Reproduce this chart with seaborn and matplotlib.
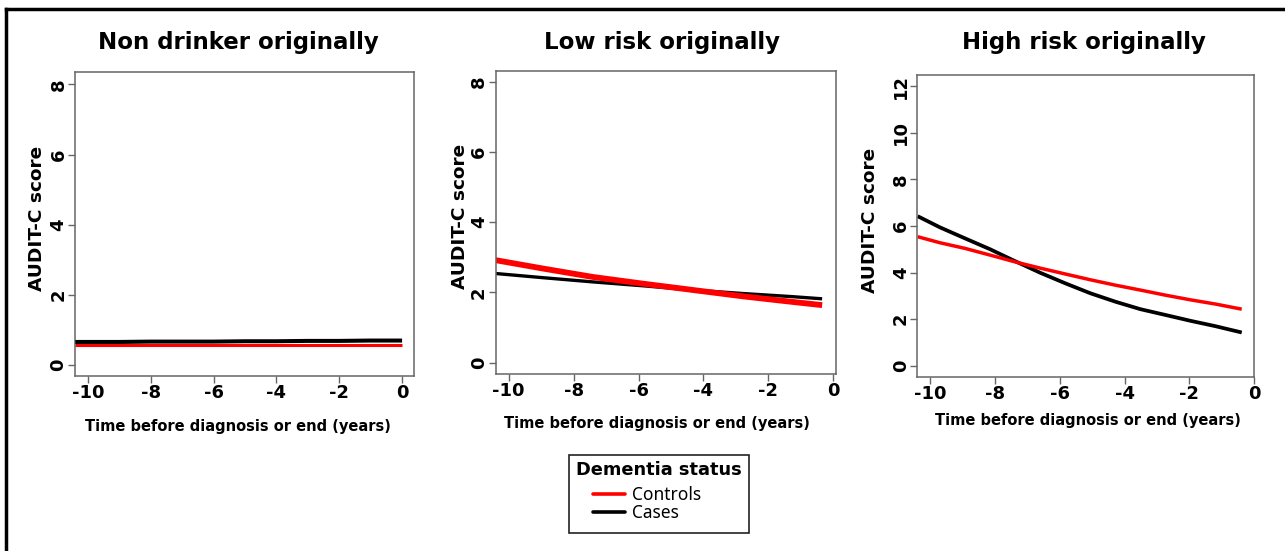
import matplotlib
matplotlib.use("Agg")
import matplotlib.pyplot as plt
from matplotlib.lines import Line2D
from matplotlib.patches import Rectangle
import seaborn as sns
import pandas as pd

# ---------------- data ----------------
panel_titles = ["Non drinker originally", "Low risk originally", "High risk originally"]
status_labels = ["Controls", "Cases"]

nd_time = [-10.4, -9, -8, -7, -6, -5, -4, -3, -2, -1, 0]
nd_controls = [0.58, 0.58, 0.58, 0.58, 0.58, 0.58, 0.58, 0.58, 0.58, 0.58, 0.58]
nd_cases = [0.66, 0.66, 0.67, 0.67, 0.67, 0.68, 0.68, 0.69, 0.69, 0.70, 0.70]

lr_time = [-10.41, -8.94, -7.40, -5.86, -4.32, -2.78, -1.24, -0.34]
lr_controls = [2.92, 2.68, 2.44, 2.25, 2.07, 1.89, 1.73, 1.64]
lr_cases = [2.54, 2.42, 2.30, 2.19, 2.07, 1.97, 1.88, 1.82]

hr_time = [-10.39, -9.70, -8.93, -8.15, -7.38, -6.60, -5.83, -5.05,
           -4.28, -3.51, -2.73, -1.96, -1.19, -0.38]
hr_controls = [5.54, 5.28, 5.04, 4.75, 4.46, 4.19, 3.94, 3.69,
               3.46, 3.25, 3.03, 2.83, 2.65, 2.43]
hr_cases = [6.42, 5.94, 5.47, 5.00, 4.49, 3.99, 3.54, 3.11,
            2.75, 2.43, 2.18, 1.93, 1.70, 1.43]

x_ticks = [-10, -8, -6, -4, -2, 0]
y_ticks_low = [0, 2, 4, 6, 8]
y_ticks_high = [0, 2, 4, 6, 8, 10, 12]

x_label = "Time before diagnosis or end (years)"
y_label = "AUDIT-C score"
legend_title = "Dementia status"

# ---------------- style ----------------
sns.set_style("ticks")
plt.rcParams["font.family"] = ["DejaVu Sans"]
plt.rcParams["text.color"] = "black"
plt.rcParams["axes.labelcolor"] = "black"
plt.rcParams["xtick.color"] = "black"
plt.rcParams["ytick.color"] = "black"

BOLD = ["DejaVu Sans"]
W, H = 1285, 551

fig = plt.figure(figsize=(12.85, 5.51), dpi=100)

positions = [
    [0.0584, 0.3176, 0.2638, 0.5517],
    [0.3858, 0.3212, 0.2646, 0.5499],
    [0.7139, 0.3158, 0.2620, 0.5481],
]
xlims = [(-10.41, 0.38), (-10.4, 0.08), (-10.4, 0.0)]
ylims = [(-0.31, 8.35), (-0.32, 8.30), (-0.48, 12.48)]
yticks_list = [y_ticks_low, y_ticks_low, y_ticks_high]
ylabel_xy = [(-0.085, 0.517), (-0.078, 0.52), (-0.114, 0.52)]
xlabel_xy = [(0.482, -0.141), (0.474, -0.139), (0.507, -0.119)]
title_xy = [(0.482, 1.0757), (0.488, 1.0716), (0.496, 1.085)]

panels = [
    (nd_time, nd_controls, nd_cases, 2.2, 2.9),
    (lr_time, lr_controls, lr_cases, 4.2, 2.4),
    (hr_time, hr_controls, hr_cases, 2.5, 2.7),
]

colors = {"Controls": "#ff0000", "Cases": "#000000"}

for i, (t, ctrl, cases, lw_c, lw_k) in enumerate(panels):
    ax = fig.add_axes(positions[i])
    df = pd.DataFrame({"time": t + t,
                       "score": ctrl + cases,
                       "status": [status_labels[0]] * len(t) + [status_labels[1]] * len(t)})
    sns.lineplot(data=df[df.status == "Cases"], x="time", y="score",
                 color=colors["Cases"], linewidth=lw_k, ax=ax, legend=False,
                 solid_capstyle="butt")
    sns.lineplot(data=df[df.status == "Controls"], x="time", y="score",
                 color=colors["Controls"], linewidth=lw_c, ax=ax, legend=False,
                 solid_capstyle="butt")
    if i == 0:
        ax.lines[0].set_zorder(3)
    ax.set_xlim(*xlims[i])
    ax.set_ylim(*ylims[i])
    ax.set_xticks(x_ticks)
    ax.set_yticks(yticks_list[i])
    ax.set_xticklabels([str(v) for v in x_ticks], fontsize=13, fontweight="bold",
                       family=BOLD)
    ax.set_yticklabels([str(v) for v in yticks_list[i]], fontsize=13, fontweight="bold",
                       family=BOLD, rotation=90, va="center")
    ax.tick_params(axis="both", direction="out", length=5, width=1, color="#666666",
                   labelcolor="black", pad=0.5)
    for sp in ax.spines.values():
        sp.set_visible(True)
        sp.set_color("#666666")
        sp.set_linewidth(1.1)
    ax.set_xlabel(x_label, fontsize=10.5, fontweight="bold", family=BOLD)
    ax.xaxis.set_label_coords(*xlabel_xy[i])
    ax.set_ylabel(y_label, fontsize=13.3, fontweight="bold", family=BOLD)
    ax.yaxis.set_label_coords(*ylabel_xy[i])
    ax.text(title_xy[i][0], title_xy[i][1], panel_titles[i], transform=ax.transAxes,
            ha="center", va="baseline", fontsize=16.5, fontweight="bold", family=BOLD)
    ax.grid(False)

# legend: frame + title + entries
fig.add_artist(Rectangle((569 / W, 1 - 533 / H), 180 / W, 78 / H,
                         transform=fig.transFigure, facecolor="white",
                         edgecolor="#222222", lw=1.2, zorder=1))
fig.text(659 / W, 1 - 470 / H, legend_title, ha="center", va="center",
         fontsize=12.8, fontweight="bold", family=BOLD, zorder=2)
handles = [Line2D([0], [0], color=colors["Controls"], lw=2.6),
           Line2D([0], [0], color=colors["Cases"], lw=2.6)]
leg = fig.legend(handles, status_labels,
                 loc="upper left", bbox_to_anchor=(593 / W, 1 - 486 / H),
                 frameon=False, borderaxespad=0, borderpad=0,
                 prop={"size": 12.5, "family": ["Noto Sans", "DejaVu Sans"]},
                 handlelength=1.85, handletextpad=0.4, labelspacing=0.0)
leg.set_zorder(3)

# outer border (left and top)
fig.add_artist(Line2D([5.6 / W, 5.6 / W], [0, 1 - 8.8 / H],
                      transform=fig.transFigure, color="black", lw=2.5,
                      solid_capstyle="projecting"))
fig.add_artist(Line2D([5.6 / W, 1283 / W], [1 - 8.8 / H, 1 - 8.8 / H],
                      transform=fig.transFigure, color="black", lw=2.5,
                      solid_capstyle="projecting"))

fig.savefig("out.png", dpi=100, facecolor="white")
